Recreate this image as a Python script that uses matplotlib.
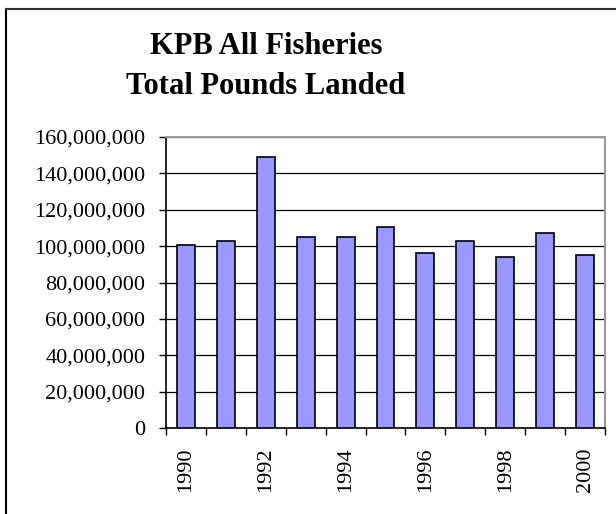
import numpy as np
import matplotlib
matplotlib.use("Agg")
import matplotlib.pyplot as plt
from matplotlib.lines import Line2D
from matplotlib.ticker import FuncFormatter

# data
years = [1990, 1991, 1992, 1993, 1994, 1995, 1996, 1997, 1998, 1999, 2000]
pounds = [100.5e6, 102.7e6, 149.0e6, 105.1e6, 105.1e6, 110.6e6,
          96.3e6, 102.7e6, 94.1e6, 107.1e6, 95.2e6]
labeled_years = [1990, 1992, 1994, 1996, 1998, 2000]
title = "KPB All Fisheries\nTotal Pounds Landed"

plt.rcParams['font.family'] = ['Liberation Serif', 'DejaVu Serif']

fig = plt.figure(figsize=(6.16, 5.14), dpi=100)
ax = fig.add_axes([166/616, 1-428/514, (605-166)/616, (428-137)/514])

x = np.arange(len(years))
ax.bar(x, pounds, width=0.45, color='#9999FF', edgecolor='black', linewidth=1.2, zorder=3)

ax.set_xlim(-0.5, len(years) - 0.5)
ax.set_ylim(0, 160e6)
ax.set_yticks(np.arange(0, 160e6 + 1, 20e6))
ax.yaxis.set_major_formatter(FuncFormatter(lambda v, p: '{:,.0f}'.format(v)))
ax.yaxis.grid(True, color='black', linewidth=0.9, zorder=0)

# tick marks between categories, labels on every other year
ax.set_xticks(np.arange(-0.5, len(years), 1.0))
ax.set_xticklabels([])
ax.set_xticks([years.index(y) for y in labeled_years], minor=True)
ax.set_xticklabels([str(y) for y in labeled_years], minor=True, rotation=90, fontsize=16)
ax.tick_params(axis='x', which='major', direction='out', length=5, width=1, color='black')
ax.tick_params(axis='x', which='minor', length=0, pad=14)
ax.tick_params(axis='y', direction='out', length=5, width=1, labelsize=16, pad=10)

for side in ['left', 'bottom']:
    ax.spines[side].set_color('black')
    ax.spines[side].set_linewidth(1.2)
for side in ['top', 'right']:
    ax.spines[side].set_color('#999999')
    ax.spines[side].set_linewidth(1.5)

fig.text(266/616, 1-66/514, title, ha='center', va='center', fontsize=22,
         fontweight='bold', linespacing=1.5)

# chart border (left and top edges visible)
fig.add_artist(Line2D([6/616, 6/616], [0, 1-9/514], transform=fig.transFigure,
                      color='black', linewidth=1.5))
fig.add_artist(Line2D([6/616, 1], [1-9/514, 1-9/514], transform=fig.transFigure,
                      color='#333333', linewidth=1.5))

fig.savefig('out.png', dpi=100)
